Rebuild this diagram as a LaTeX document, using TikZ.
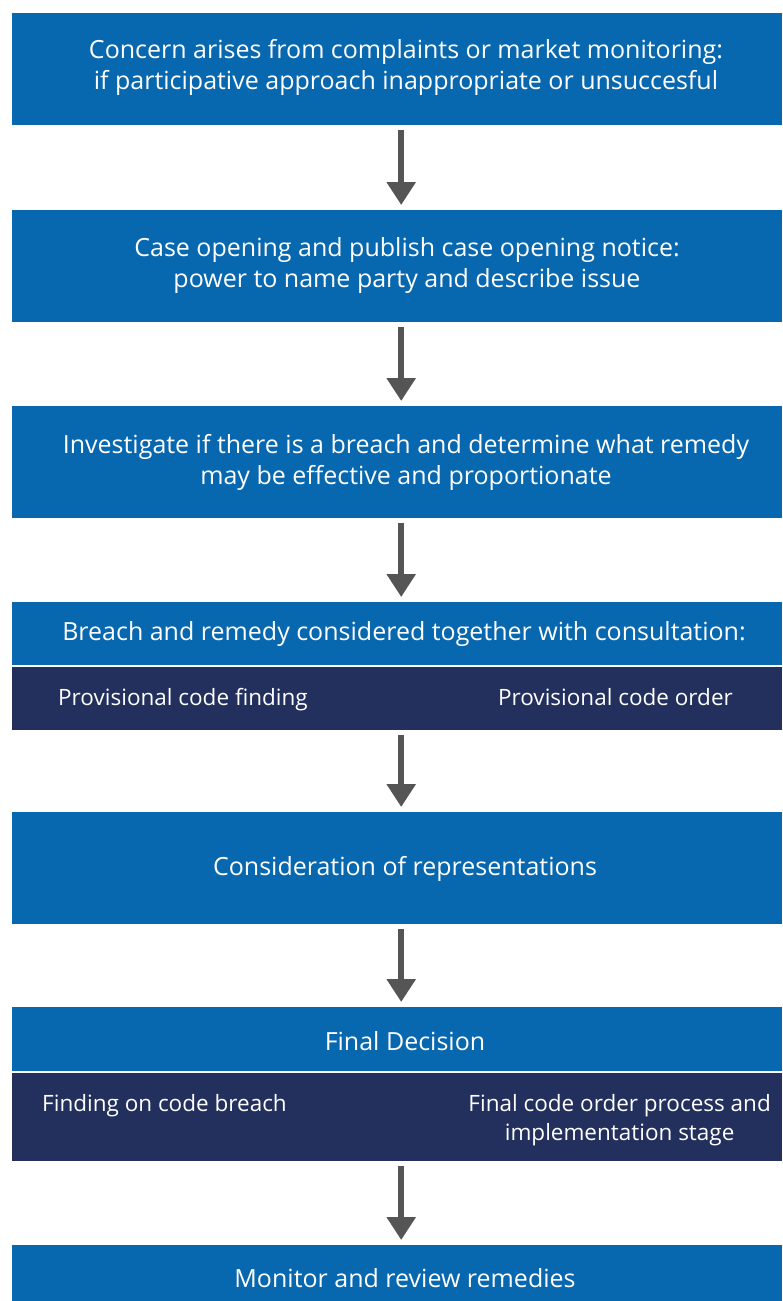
\documentclass[tikz,border=0pt]{standalone}
\usepackage{fontspec}
\setmainfont{Open Sans}
\usetikzlibrary{arrows.meta}
\definecolor{cblue}{HTML}{0767AF}
\definecolor{cnavy}{HTML}{23305E}
\definecolor{carrow}{HTML}{555555}
\tikzset{
  bluebox/.style={fill=cblue, draw=none, anchor=north west, inner sep=0pt},
  navybox/.style={fill=cnavy, draw=none, anchor=north west, inner sep=0pt},
  maintext/.style={text=white, align=center, font=\fontsize{25}{31}\selectfont, inner sep=0pt},
  subtext/.style={text=white, align=center, font=\fontsize{22.5}{29}\selectfont, inner sep=0pt},
  flowarrow/.style={draw=carrow, line width=6pt, -{Triangle[width=28pt,length=23pt]}, shorten <=5pt, shorten >=5pt}
}
\begin{document}
\begin{tikzpicture}[x=1pt,y=-1pt]
\useasboundingbox (0,0) rectangle (782,1301);
\clip (0,0) rectangle (782,1301);
\fill[white] (0,0) rectangle (782,1301);
% boxes
\node[bluebox, minimum width=770pt, minimum height=112pt] (b1) at (12,13) {};
\node[bluebox, minimum width=770pt, minimum height=112pt] (b2) at (12,210) {};
\node[bluebox, minimum width=770pt, minimum height=112pt] (b3) at (12,406) {};
\node[bluebox, minimum width=770pt, minimum height=63pt] (b4) at (12,602) {};
\node[navybox, minimum width=770pt, minimum height=63pt] (b4d) at (12,667) {};
\node[bluebox, minimum width=770pt, minimum height=112pt] (b5) at (12,812) {};
\node[bluebox, minimum width=770pt, minimum height=64pt] (b6) at (12,1007) {};
\node[navybox, minimum width=770pt, minimum height=88pt] (b6d) at (12,1073) {};
\node[bluebox, minimum width=770pt, minimum height=70pt] (b7) at (12,1245) {};
% texts
\node[maintext] (t1) at (406,67) {Concern arises from complaints or market monitoring:\\if participative approach inappropriate or unsuccesful};
\node[maintext] (t2) at (407,266) {Case opening and publish case opening notice:\\power to name party and describe issue};
\node[maintext] (t3) at (406,462) {Investigate if there is a breach and determine what remedy\\may be effective and proportionate};
\node[maintext] (t4) at (404,634) {Breach and remedy considered together with consultation:};
\node[subtext, anchor=base west] (t4a) at (58,705) {Provisional code finding};
\node[subtext, anchor=base east] (t4b) at (733,705) {Provisional code order};
\node[maintext] (t5) at (405,869) {Consideration of representations};
\node[maintext] (t6) at (405,1041) {Final Decision};
\node[subtext, anchor=base west] (t6a) at (42,1111) {Finding on code breach};
\node[subtext, anchor=east] (t6b) at (771,1120.5) {Final code order process and\\implementation stage};
\node[maintext] (t7) at (405,1278) {Monitor and review remedies};
% arrows
\draw[flowarrow] ([xshift=4pt]b1.south) -- ([xshift=4pt]b2.north);
\draw[flowarrow] ([xshift=4pt]b2.south) -- ([xshift=4pt]b3.north);
\draw[flowarrow] ([xshift=4pt]b3.south) -- ([xshift=4pt]b4.north);
\draw[flowarrow] ([xshift=4pt]b4d.south) -- ([xshift=4pt]b5.north);
\draw[flowarrow] ([xshift=4pt]b5.south) -- ([xshift=4pt]b6.north);
\draw[flowarrow] ([xshift=4pt]b6d.south) -- ([xshift=4pt]b7.north);
\end{tikzpicture}
\end{document}
